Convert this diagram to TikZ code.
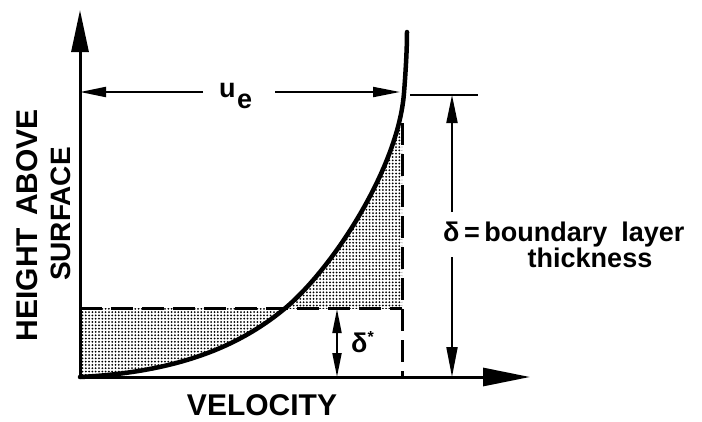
\documentclass[tikz,border=0pt]{standalone}
\usepackage{fontspec}
\setmainfont{Liberation Sans}
\usetikzlibrary{arrows.meta,patterns.meta}
\tikzset{
  axisline/.style={line width=3pt},
  curveline/.style={line width=4.5pt, line cap=round},
  dashline/.style={line width=3pt, dash pattern=on 22pt off 9pt},
  dimline/.style={line width=2pt},
  shade/.style={pattern={Dots[distance=3.3pt, radius=1pt]}},
  lab/.style={font=\fontsize{30}{32}\selectfont\bfseries, inner sep=0pt},
  sublab/.style={font=\fontsize{27}{29}\selectfont\bfseries, inner sep=0pt},
}
\def\curvepath{(80,377) .. controls (180,372) and (240,345) .. (283,310) .. controls (330,272) and (398,170) .. (404,93) .. controls (405.5,74) and (407,50) .. (407,32)}
\begin{document}
\begin{tikzpicture}[x=1pt,y=-1pt]
\useasboundingbox (0,0) rectangle (702,421);
% coordinates
\coordinate (O) at (80,377);
\coordinate (Ytop) at (80,10);
\coordinate (Xend) at (530,377);
\coordinate (ueY) at (80,92);
\coordinate (ueL) at (203,92);
\coordinate (ueR) at (275,92);
\coordinate (ueC) at (400,92);
\coordinate (extA) at (410,95);
\coordinate (extB) at (478,95);
\coordinate (dTop) at (452,95);
\coordinate (dUp) at (452,212);
\coordinate (dLow) at (452,257);
\coordinate (dBot) at (452,377);
\coordinate (dsTop) at (337,309);
\coordinate (dsBot) at (337,377);
\coordinate (hdA) at (80,308);
\coordinate (hdB) at (402,308);
\coordinate (vdA) at (402,123);
\coordinate (vdB) at (402,377);
% shaded regions
\begin{scope}
  \clip (80,308) rectangle (402,377);
  \fill[shade] (80,32) -- \curvepath -- cycle;
\end{scope}
\begin{scope}
  \clip (80,121) rectangle (402,308);
  \fill[shade] \curvepath -- (407,377) -- cycle;
\end{scope}
% dashed lines
\draw[dashline] (hdA) -- (hdB);
\draw[dashline] (vdA) -- (vdB);
% axes
\draw[axisline, -{Triangle[length=42pt,width=17pt]}] (O) -- (Ytop);
\draw[axisline, -{Triangle[length=47pt,width=18pt]}] (O) -- (Xend);
% curve
\draw[curveline] \curvepath;
% u_e dimension
\draw[dimline, -{Triangle[length=26pt,width=10pt]}] (ueL) -- (ueY);
\draw[dimline, -{Triangle[length=27pt,width=10pt]}] (ueR) -- (ueC);
\node[sublab, anchor=base west] (ueu) at (219,97) {u};
\node[sublab, anchor=base west] (uee) at (237,108) {e};
% delta dimension
\draw[dimline] (extA) -- (extB);
\draw[dimline, -{Triangle[length=28pt,width=11pt]}] (dUp) -- (dTop);
\draw[dimline, -{Triangle[length=30pt,width=11pt]}] (dLow) -- (dBot);
\node[sublab, anchor=base west] (dlab) at (443,241) {δ\,=\,boundary\hspace{14pt}layer};
\node[sublab, anchor=base] (thick) at (590,267) {thickness};
% delta star dimension
\draw[dimline, {Triangle[length=24pt,width=9pt]}-{Triangle[length=24pt,width=9pt]}] (dsTop) -- (dsBot);
\node[sublab, anchor=base west] (dslab) at (351,352) {δ\raisebox{0.35em}{\fontsize{16}{16}\selectfont *}};
% axis labels
\node[lab] (xlab) at (262,405) {VELOCITY};
\node[lab, rotate=90] (ylab1) at (27,225) {HEIGHT\hspace{12pt}ABOVE};
\node[lab, rotate=90, font=\fontsize{28}{30}\selectfont\bfseries] (ylab2) at (61,214) {SURFACE};
\end{tikzpicture}
\end{document}
